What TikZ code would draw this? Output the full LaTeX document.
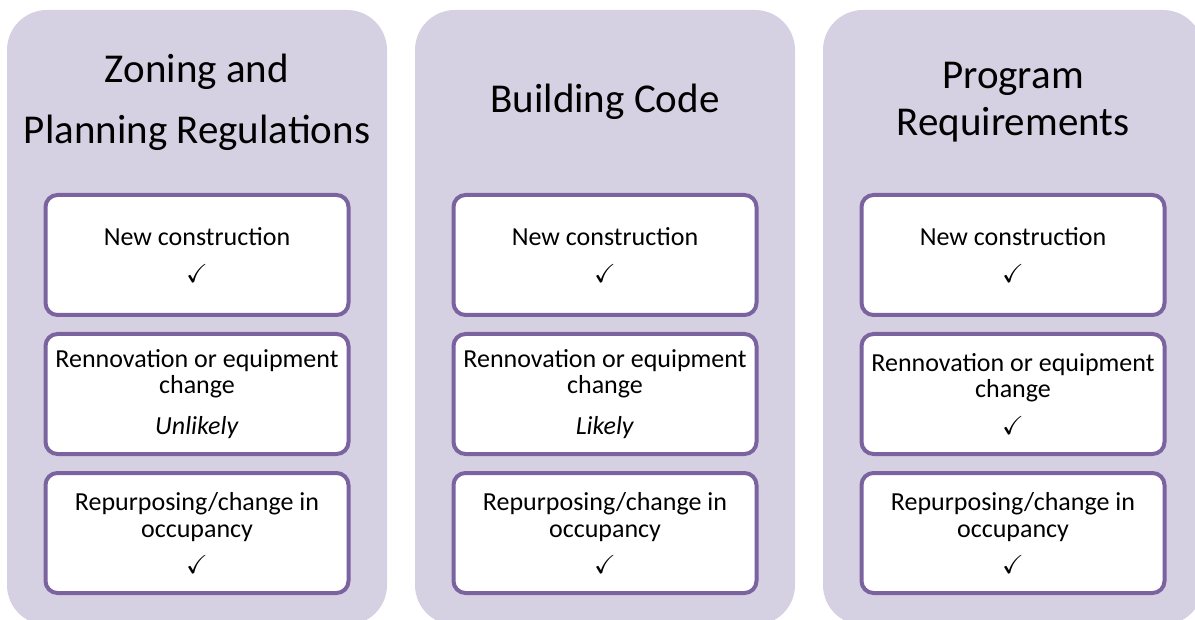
\documentclass[tikz,border=0pt]{standalone}
\usepackage{fontspec}
\setmainfont{Carlito}
\usepackage{amssymb}
\definecolor{colbg}{RGB}{214,209,226}
\definecolor{boxline}{RGB}{123,99,160}

\begin{document}
\begin{tikzpicture}[x=1pt, y=-1pt,
    column/.style={fill=colbg, rounded corners=40pt, minimum width=380pt, minimum height=615pt, inner sep=0pt},
    heading/.style={align=center, font=\fontsize{41}{61}\selectfont},
    item/.style={draw=boxline, line width=4pt, fill=white, rounded corners=12pt, minimum width=303pt, minimum height=120pt, inner sep=0pt, align=center, font=\fontsize{26}{26.5}\selectfont}]
    \useasboundingbox (0,0) rectangle (1195,620);
    \clip (0,0) rectangle (1195,620);

    % columns
    \node (zoningcol) at (197, 317.5) [column] {};
    \node (codecol) at (605, 317.5) [column] {};
    \node (programcol) at (1013, 317.5) [column] {};

    % headings
    \node (zoning) at (197, 102) [heading] {Zoning and\\Planning Regulations};
    \node (code) at (605, 102) [heading] {Building Code};
    \node (program) at (1013, 102) [heading, font=\fontsize{41}{47}\selectfont] {Program\\Requirements};

    % zoning and planning
    \node (zoningnew) at (197, 255) [item] {New construction\\[11pt]$\checkmark$};
    \node (zoningreno) at (197, 394) [item] {Rennovation or equipment\\change\\[14pt]\textit{Unlikely}};
    \node (zoningrepurp) at (197, 533) [item] {Repurposing/change in\\occupancy\\[10pt]$\checkmark$};

    % building code
    \node (codenew) at (605, 255) [item] {New construction\\[11pt]$\checkmark$};
    \node (codereno) at (605, 394) [item] {Rennovation or equipment\\change\\[14pt]\textit{Likely}};
    \node (coderepurp) at (605, 533) [item] {Repurposing/change in\\occupancy\\[10pt]$\checkmark$};

    % program requirements
    \node (programnew) at (1013, 255) [item] {New construction\\[11pt]$\checkmark$};
    \node (programreno) at (1013, 394) [item] {Rennovation or equipment\\change\\[10pt]$\checkmark$};
    \node (programrepurp) at (1013, 533) [item] {Repurposing/change in\\occupancy\\[10pt]$\checkmark$};
\end{tikzpicture}
\end{document}
